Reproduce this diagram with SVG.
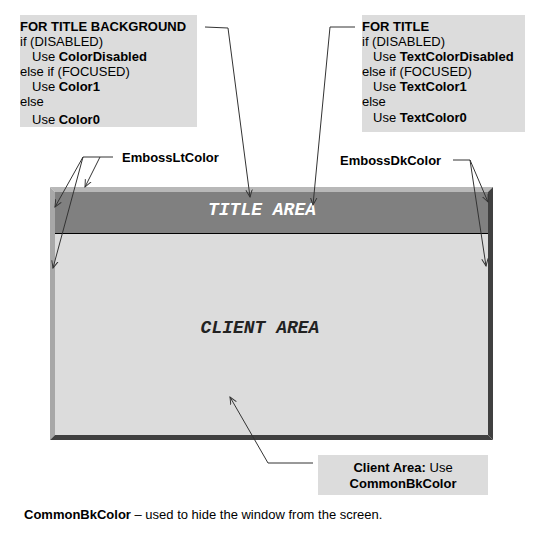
<svg xmlns="http://www.w3.org/2000/svg" width="541" height="541" viewBox="0 0 541 541">
<style>
.t{font-family:"Liberation Sans",Arial,sans-serif;font-size:13px;fill:#000}
.b{font-weight:bold}
.box{fill:#dcdcdc}
.c{stroke:#333;stroke-width:1;fill:none}
.mono{font-family:"Liberation Mono","Courier New",monospace;font-weight:bold;font-style:italic;font-size:18px}
</style>
<defs>
<marker id="ah" viewBox="0 0 10 10" refX="9" refY="5" markerWidth="8" markerHeight="8" orient="auto" markerUnits="userSpaceOnUse">
<path d="M0,1 L9,5 L0,9" fill="none" stroke="#333" stroke-width="1.2"/>
</marker>
<clipPath id="cl1"><rect x="20" y="15" width="177" height="112"/></clipPath>
<clipPath id="cl2"><rect x="362" y="15" width="163" height="117"/></clipPath>
</defs>
<rect width="541" height="541" fill="#fff"/>

<g id="window">
<polygon points="50,187 493,187 488,192 55,192" fill="#b8b8b8"/>
<polygon points="50,187 55,192 55,435 50,440" fill="#a8a8a8"/>
<polygon points="493,187 493,440 488,435 488,192" fill="#404040"/>
<polygon points="50,440 493,440 488,435 55,435" fill="#404040"/>
<rect x="55" y="192" width="433" height="41" fill="#808080"/>
<rect x="55" y="234" width="433" height="201" fill="#dcdcdc"/>
<line x1="55" y1="233.5" x2="488" y2="233.5" stroke="#000" stroke-width="1"/>
<text x="262" y="215" class="mono" fill="#fff" text-anchor="middle">TITLE AREA</text>
<text x="260" y="333" class="mono" fill="#222" text-anchor="middle">CLIENT AREA</text>
</g>

<g id="title-bg-note">
<rect class="box" x="20" y="15" width="177" height="112"/>
<g clip-path="url(#cl1)">
<text class="t b" x="20" y="31">FOR TITLE BACKGROUND</text>
<text class="t" x="20" y="46">if (DISABLED)</text>
<text class="t" x="32" y="61">Use <tspan class="b">ColorDisabled</tspan></text>
<text class="t" x="20" y="76">else if (FOCUSED)</text>
<text class="t" x="32" y="91">Use <tspan class="b">Color1</tspan></text>
<text class="t" x="20" y="106">else</text>
<text class="t" x="32" y="124">Use <tspan class="b">Color0</tspan></text>
</g>
</g>

<g id="title-note">
<rect class="box" x="362" y="15" width="163" height="117"/>
<g clip-path="url(#cl2)">
<text class="t b" x="362" y="31">FOR TITLE</text>
<text class="t" x="362" y="46">if (DISABLED)</text>
<text class="t" x="373" y="61">Use <tspan class="b">TextColorDisabled</tspan></text>
<text class="t" x="362" y="76">else if (FOCUSED)</text>
<text class="t" x="373" y="91">Use <tspan class="b">TextColor1</tspan></text>
<text class="t" x="362" y="106">else</text>
<text class="t" x="373" y="122">Use <tspan class="b">TextColor0</tspan></text>
</g>
</g>

<g id="client-note">
<rect class="box" x="318" y="455" width="170" height="40"/>
<text class="t" x="403" y="472" text-anchor="middle"><tspan class="b">Client Area:</tspan> Use</text>
<text class="t b" x="403" y="488" text-anchor="middle">CommonBkColor</text>
</g>

<g id="emboss-lt-label">
<text class="t b" x="122" y="162">EmbossLtColor</text>
</g>
<g id="emboss-dk-label">
<text class="t b" x="340" y="165">EmbossDkColor</text>
</g>

<g id="footer">
<text class="t" x="24" y="519"><tspan class="b">CommonBkColor</tspan> – used to hide the window from the screen.</text>
</g>

<g id="connectors">
<polyline class="c" points="205,27 228,28 250,197" marker-end="url(#ah)"/>
<polyline class="c" points="355,27 330,27 313,205" marker-end="url(#ah)"/>
<polyline class="c" points="113,157 83,157 55,207" marker-end="url(#ah)"/>
<polyline class="c" points="83,157 53,268" marker-end="url(#ah)"/>
<polyline class="c" points="100,157 85,187" marker-end="url(#ah)"/>
<polyline class="c" points="453,160 470,160 488,202" marker-end="url(#ah)"/>
<polyline class="c" points="470,160 486,266" marker-end="url(#ah)"/>
<polyline class="c" points="313,463 268,463 230,397" marker-end="url(#ah)"/>
</g>
</svg>
